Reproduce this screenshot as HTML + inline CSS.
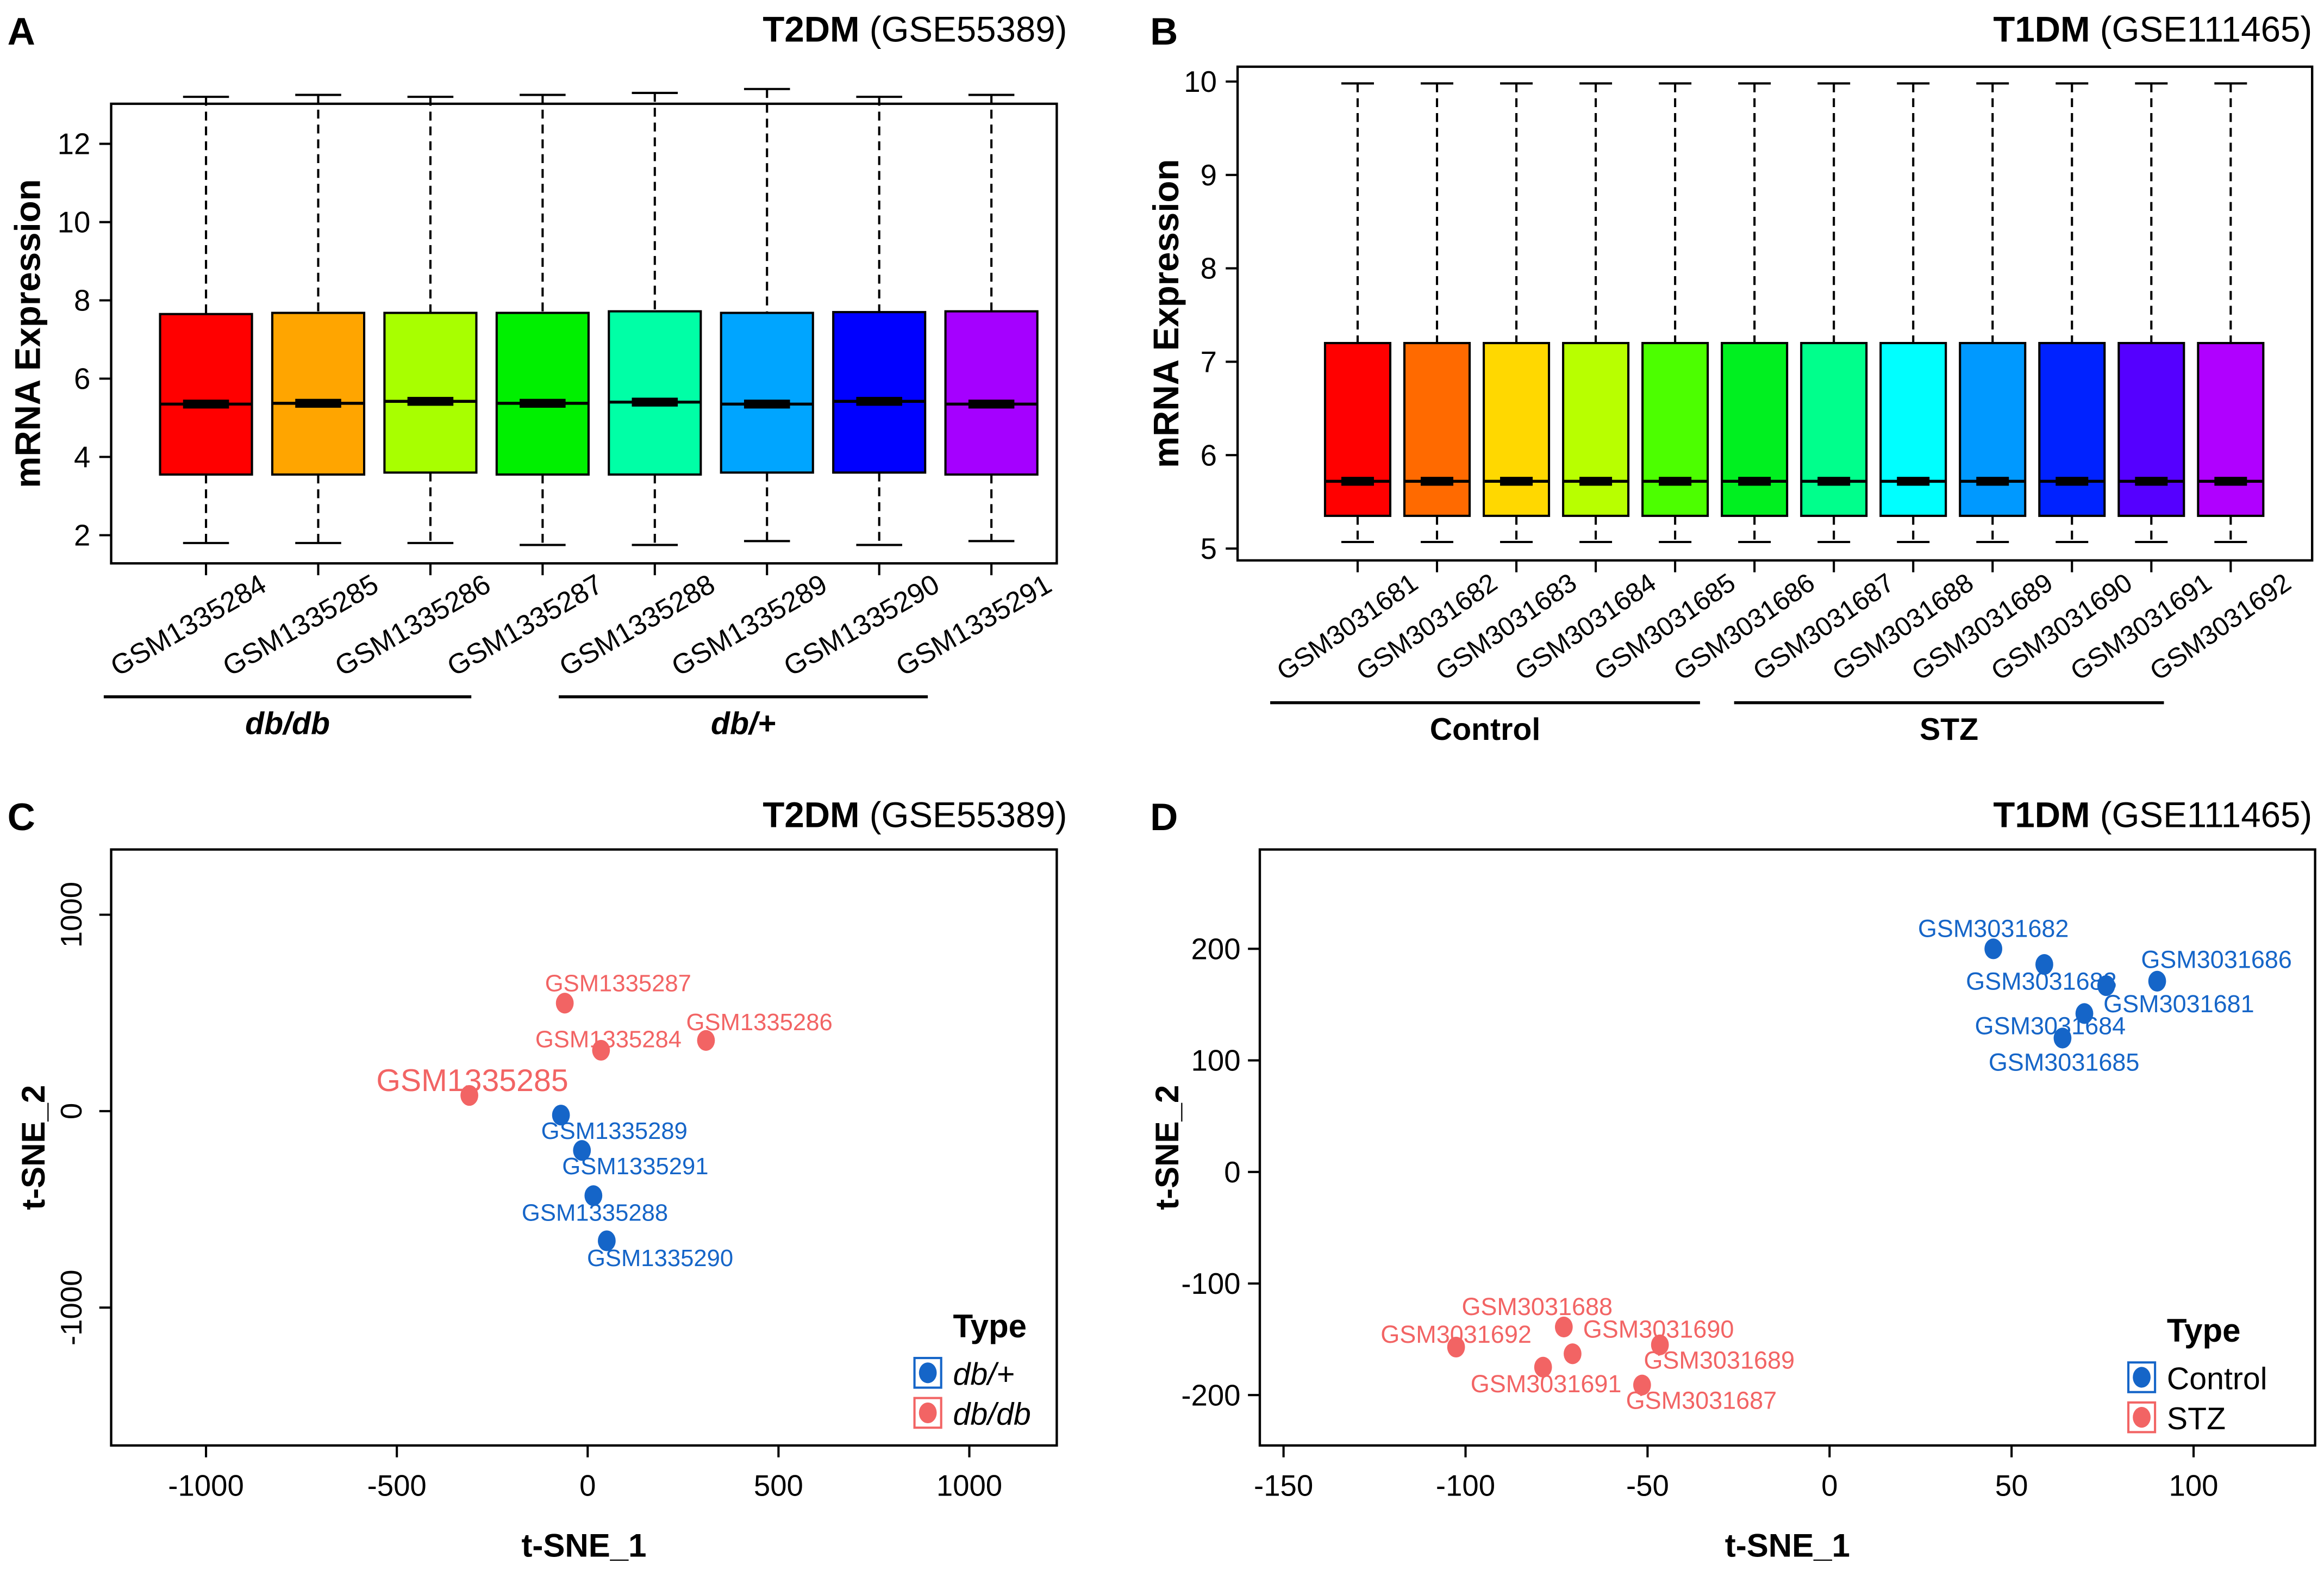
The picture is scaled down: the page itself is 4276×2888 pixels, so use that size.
<!DOCTYPE html>
<html><head><meta charset="utf-8"><style>
html,body{margin:0;padding:0;background:#fff}
svg{display:block}
text{font-family:"Liberation Sans",Arial,sans-serif}
</style></head><body>
<svg id="fig" width="4276" height="2888" viewBox="0 0 1568 1059" preserveAspectRatio="none" xmlns="http://www.w3.org/2000/svg">
<rect width="1568" height="1059" fill="#fff"/>
<g id="root"></g>
</svg>
<script>
// ---------- Panel A data ----------
const aSamples = ["GSM1335284","GSM1335285","GSM1335286","GSM1335287","GSM1335288","GSM1335289","GSM1335290","GSM1335291"];
const aMin = [1.8,1.8,1.8,1.75,1.75,1.85,1.75,1.85];
const aQ1 = [3.55,3.55,3.6,3.55,3.55,3.6,3.6,3.55];
const aMed = [5.35,5.37,5.42,5.37,5.4,5.35,5.42,5.35];
const aQ3 = [7.65,7.68,7.68,7.68,7.72,7.68,7.7,7.72];
const aMax = [13.2,13.25,13.2,13.25,13.3,13.4,13.2,13.25];
const aColors = ["#FF0000","#FFA500","#A8FF00","#00F000","#00FFA6","#00A5FF","#0000FF","#A500FF"];
const aYTicks = [2,4,6,8,10,12];
// ---------- Panel B data ----------
const bSamples = ["GSM3031681","GSM3031682","GSM3031683","GSM3031684","GSM3031685","GSM3031686","GSM3031687","GSM3031688","GSM3031689","GSM3031690","GSM3031691","GSM3031692"];
const bMin = [5.07,5.07,5.07,5.07,5.07,5.07,5.07,5.07,5.07,5.07,5.07,5.07];
const bQ1 = [5.35,5.35,5.35,5.35,5.35,5.35,5.35,5.35,5.35,5.35,5.35,5.35];
const bMed = [5.72,5.72,5.72,5.72,5.72,5.72,5.72,5.72,5.72,5.72,5.72,5.72];
const bQ3 = [7.2,7.2,7.2,7.2,7.2,7.2,7.2,7.2,7.2,7.2,7.2,7.2];
const bMax = [9.98,9.98,9.98,9.98,9.98,9.98,9.98,9.98,9.98,9.98,9.98,9.98];
const bColors = ["#FF0000","#FF6A00","#FFD800","#B8FF00","#4CFF00","#00F020","#00FF8C","#00FFFF","#0099FF","#0022FF","#5500FF","#B000FF"];
const bYTicks = [5,6,7,8,9,10];
// ---------- Panel C data ----------
const cNames = ["GSM1335287","GSM1335284","GSM1335286","GSM1335285","GSM1335289","GSM1335291","GSM1335288","GSM1335290"];
const cX = [-60,35,310,-310,-70,-15,15,50];
const cY = [550,310,360,80,-20,-200,-430,-660];
const cType = ["db/db","db/db","db/db","db/db","db/+","db/+","db/+","db/+"];
const cXTicks = [-1000,-500,0,500,1000];
const cYTicks = [-1000,0,1000];
// ---------- Panel D data ----------
const dNames = ["GSM3031682","GSM3031683","GSM3031686","GSM3031681","GSM3031684","GSM3031685","GSM3031692","GSM3031688","GSM3031690","GSM3031691","GSM3031689","GSM3031687"];
const dX = [45,59,90,76,70,64,-102.6,-73,-70.6,-78.7,-46.6,-51.5];
const dY = [200,186,171,167,142,120,-157,-139,-163,-175,-155,-191];
const dType = ["Control","Control","Control","Control","Control","Control","STZ","STZ","STZ","STZ","STZ","STZ"];
const dXTicks = [-150,-100,-50,0,50,100];
const dYTicks = [-200,-100,0,100,200];

const NS="http://www.w3.org/2000/svg";
const root=document.getElementById('root');
function el(tag,attrs,parent,txt){const e=document.createElementNS(NS,tag);for(const k in attrs)e.setAttribute(k,attrs[k]);if(txt!==undefined)e.textContent=txt;(parent||root).appendChild(e);return e;}

function boxPanel(o){
  const g=el('g',{});
  
  
  const y=v=>o.y0+(v-o.v0)*(o.y1-o.y0)/(o.v1-o.v0);
  const fr=el('rect',{x:o.L,y:o.T,width:o.R-o.L,height:o.B-o.T,fill:'none',stroke:'#000','stroke-width':1.6},g);
  
  o.yTicks.forEach(t=>{
    el('line',{x1:o.L-8,x2:o.L,y1:y(t),y2:y(t),stroke:'#000','stroke-width':1.5},g);
    const tx=el('text',{x:o.L-14,y:y(t)+7,'font-size':20,'text-anchor':'end'},g,String(t));
    
  });
  o.samples.forEach((s,i)=>{
    const cx=o.cx0+i*o.dx, w=o.bw;
    const bg=el('g',{},g);
    
    
    el('line',{x1:cx,x2:cx,y1:y(o.max[i]),y2:y(o.q3[i]),stroke:'#000','stroke-width':1.5,'stroke-dasharray':'6,4'},bg);
    el('line',{x1:cx,x2:cx,y1:y(o.q1[i]),y2:y(o.min[i]),stroke:'#000','stroke-width':1.5,'stroke-dasharray':'6,4'},bg);
    el('line',{x1:cx-w/4,x2:cx+w/4,y1:y(o.max[i]),y2:y(o.max[i]),stroke:'#000','stroke-width':1.5},bg);
    el('line',{x1:cx-w/4,x2:cx+w/4,y1:y(o.min[i]),y2:y(o.min[i]),stroke:'#000','stroke-width':1.5},bg);
    el('rect',{x:cx-w/2,y:y(o.q3[i]),width:w,height:y(o.q1[i])-y(o.q3[i]),fill:o.colors[i],stroke:'#000','stroke-width':1.5},bg);
    el('line',{x1:cx-w/2,x2:cx+w/2,y1:y(o.med[i]),y2:y(o.med[i]),stroke:'#000','stroke-width':2},bg);
    el('rect',{x:cx-w/4,y:y(o.med[i])-3,width:w/2,height:6,fill:'#000'},bg);
    el('line',{x1:cx,x2:cx,y1:o.B,y2:o.B+8,stroke:'#000','stroke-width':1.5},g);
    const lx=cx+o.lbx, ly=o.B+o.lby;
    const tx=el('text',{x:lx,y:ly,'font-size':o.lfs,'text-anchor':'end',transform:`rotate(${o.rot} ${lx} ${ly})`},g,s);
    
  });
  const yt=el('text',{x:o.ytx,y:(o.T+o.B)/2,'font-size':24,'font-weight':'bold','text-anchor':'middle',transform:`rotate(-90 ${o.ytx} ${(o.T+o.B)/2})`},g,'mRNA Expression');
  
  o.groups.forEach(gr=>{
    el('line',{x1:gr[1],x2:gr[2],y1:o.gy,y2:o.gy,stroke:'#000','stroke-width':2},g);
    const t=el('text',{x:(gr[1]+gr[2])/2,y:o.gy+25,'font-size':21,'font-weight':'bold','font-style':o.italic?'italic':'normal','text-anchor':'middle'},g,gr[0]);
    
  });
  return g;
}

function title(x,y,bold,rest,letter,lx){
  const t=el('text',{x:x,y:y,'font-size':24,'text-anchor':'end'});
  
  el('tspan',{'font-weight':'bold'},t,bold);el('tspan',{},t,' '+rest);
  const l=el('text',{x:lx,y:y+2,'font-size':26,'font-weight':'bold'},root,letter);
  
}

boxPanel({name:'panel-a-boxplot',L:75,R:713,T:70,B:380,v0:2,v1:12,y0:361,y1:97,yTicks:aYTicks,samples:aSamples,min:aMin,q1:aQ1,med:aMed,q3:aQ3,max:aMax,colors:aColors,cx0:139,dx:75.7,bw:62,ytx:27,gy:470,italic:true,groups:[['db/db',70,318],['db/+',377,626]],lbx:42,lby:18,rot:-30,lfs:19});
title(720,28,'T2DM','(GSE55389)','A',5);
boxPanel({name:'panel-b-boxplot',L:835,R:1560,T:45,B:378,v0:5,v1:10,y0:370,y1:55,yTicks:bYTicks,samples:bSamples,min:bMin,q1:bQ1,med:bMed,q3:bQ3,max:bMax,colors:bColors,cx0:916,dx:53.55,bw:44,ytx:795,gy:474,italic:false,groups:[['Control',857,1147],['STZ',1170,1460]],lbx:42,lby:18,rot:-35,lfs:18});
title(1560,28,'T1DM','(GSE111465)','B',776);

function scatter(o){
  const g=el('g',{});
  
  const X=v=>o.xa+(v-o.xv0)*(o.xb-o.xa)/(o.xv1-o.xv0);
  const Y=v=>o.ya+(v-o.yv0)*(o.yb-o.ya)/(o.yv1-o.yv0);
  const fr=el('rect',{x:o.L,y:o.T,width:o.R-o.L,height:o.B-o.T,fill:'none',stroke:'#000','stroke-width':1.6},g);
  
  o.xTicks.forEach(t=>{el('line',{x1:X(t),x2:X(t),y1:o.B,y2:o.B+8,stroke:'#000','stroke-width':1.5},g);
    const tx=el('text',{x:X(t),y:o.B+34,'font-size':20,'text-anchor':'middle'},g,String(t));
    });
  o.yTicks.forEach(t=>{el('line',{x1:o.L-8,x2:o.L,y1:Y(t),y2:Y(t),stroke:'#000','stroke-width':1.5},g);
    let tx;
    if(o.rotY) tx=el('text',{x:o.L-20,y:Y(t),'font-size':20,'text-anchor':'middle',transform:`rotate(-90 ${o.L-20} ${Y(t)})`},g,String(t));
    else tx=el('text',{x:o.L-13,y:Y(t)+7,'font-size':20,'text-anchor':'end'},g,String(t));
    });
  const xt=el('text',{x:(o.L+o.R)/2,y:o.B+75,'font-size':22,'font-weight':'bold','text-anchor':'middle'},g,'t-SNE_1');
  
  const yt=el('text',{x:o.ytx,y:(o.T+o.B)/2,'font-size':22,'font-weight':'bold','text-anchor':'middle',transform:`rotate(-90 ${o.ytx} ${(o.T+o.B)/2})`},g,'t-SNE_2');
  
  o.names.forEach((nm,i)=>{
    const px=X(o.xs[i]),py=Y(o.ys[i]),col=o.cmap[o.types[i]];
    const p=el('ellipse',{cx:px,cy:py,rx:6,ry:7,fill:col},g);
    
    const off=o.off[i];
    const t=el('text',{x:px+off[0],y:py+off[1],'font-size':off[2]||o.pfs,fill:col,'text-anchor':'middle'},g,nm);
    
  });
  const lt=el('text',{x:o.lx,y:o.ly,'font-size':22,'font-weight':'bold'},g,'Type');
  
  o.legend.forEach((k,i)=>{
    const yy=o.ly+24+i*27;
    const e=el('g',{},g);
    
    el('rect',{x:o.lx-26,y:yy-10,width:18,height:20,fill:'#fff',stroke:o.cmap[k],'stroke-width':1.5},e);
    el('ellipse',{cx:o.lx-17,cy:yy,rx:6,ry:7,fill:o.cmap[k]},e);
    el('text',{x:o.lx,y:yy+8,'font-size':21,'font-style':o.italic?'italic':'normal'},e,k);
  });
}
scatter({name:'panel-c-tsne',L:75,R:713,T:573,B:975,xa:139,xb:654,xv0:-1000,xv1:1000,ya:882,yb:617,yv0:-1000,yv1:1000,rotY:true,pfs:16,
  xTicks:cXTicks,yTicks:cYTicks,names:cNames,xs:cX,ys:cY,types:cType,cmap:{'db/+':'#1565C8','db/db':'#F26464'},
  off:[[36,-8],[5,-2],[36,-7],[2,-3,21],[36,16],[36,16],[1,17],[36,17]],ytx:30,lx:643,ly:902,italic:true,legend:['db/+','db/db']});
title(720,558,'T2DM','(GSE55389)','C',5);
scatter({name:'panel-d-tsne',L:850,R:1562,T:573,B:975,xa:866,xb:1480,xv0:-150,xv1:100,ya:941,yb:640,yv0:-200,yv1:200,rotY:false,pfs:16.5,
  xTicks:dXTicks,yTicks:dYTicks,names:dNames,xs:dX,ys:dY,types:dType,cmap:{'Control':'#1565C8','STZ':'#F26464'},
  off:[[0,-8],[-2,17],[40,-9],[49,18],[-23,14],[1,22],[0,-3],[-18,-8],[58,-11],[2,17],[40,16],[40,16]],ytx:795,lx:1462,ly:905,italic:false,legend:['Control','STZ']});
title(1560,558,'T1DM','(GSE111465)','D',776);
</script>
</body></html>
